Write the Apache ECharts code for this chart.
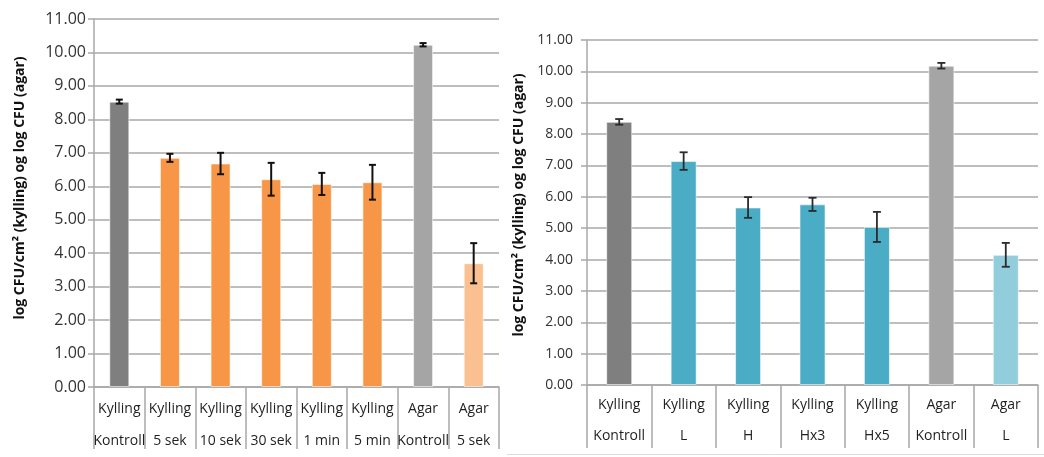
<!DOCTYPE html>
<html>
<head>
<meta charset="utf-8">
<script src="https://cdn.jsdelivr.net/npm/echarts@6/dist/echarts.min.js"></script>
<style>
  html, body { margin: 0; padding: 0; background: #ffffff; }
  #chart { width: 1044px; height: 457px; }
</style>
</head>
<body>
<div id="chart"></div>
<script>
// Left panel: chicken dipped for increasing times, plus agar controls
const leftCategories = ['Kylling\nKontroll', 'Kylling\n5 sek', 'Kylling\n10 sek', 'Kylling\n30 sek',
  'Kylling\n1 min', 'Kylling\n5 min', 'Agar\nKontroll', 'Agar\n5 sek'];
const leftMeans = [8.53, 6.85, 6.68, 6.21, 6.07, 6.12, 10.23, 3.70];
const leftErrors = [0.06, 0.12, 0.32, 0.49, 0.33, 0.52, 0.05, 0.60];

// Right panel: chicken treated L / H / Hx3 / Hx5, plus agar controls
const rightCategories = ['Kylling\nKontroll', 'Kylling\nL', 'Kylling\nH', 'Kylling\nHx3',
  'Kylling\nHx5', 'Agar\nKontroll', 'Agar\nL'];
const rightMeans = [8.39, 7.14, 5.66, 5.76, 5.04, 10.18, 4.15];
const rightErrors = [0.09, 0.28, 0.33, 0.21, 0.48, 0.09, 0.38];

const yMin = 0, yMax = 11, yStep = 1;
const yTitle = 'log CFU/cm\u00b2 (kylling) og log CFU (agar)';

// Bar fills per category
const leftColors = ['#7f7f7f', '#f79646', '#f79646', '#f79646', '#f79646', '#f79646', '#a5a5a5', '#fac090'];
const rightColors = ['#7f7f7f', '#4bacc6', '#4bacc6', '#4bacc6', '#4bacc6', '#a5a5a5', '#92cddc'];

const FONT = '"Open Sans", "Noto Sans", sans-serif';
const GRID_COLOR = '#a8a8a8';

function yAxisFor(gridIndex, fontSize, margin) {
  return {
    type: 'value', gridIndex, min: yMin, max: yMax, interval: yStep,
    axisLine: { show: true, lineStyle: { color: GRID_COLOR, width: 1.5 } },
    axisTick: { show: true, length: 6, lineStyle: { color: GRID_COLOR, width: 1.5 } },
    splitLine: { show: true, lineStyle: { color: GRID_COLOR, width: 1.5 } },
    axisLabel: {
      margin, fontFamily: FONT, fontSize, color: '#333333',
      formatter: v => v.toFixed(2)
    }
  };
}

function xAxisFor(gridIndex, cats, tickLen, lineH, margin) {
  return {
    type: 'category', gridIndex, data: cats,
    axisLine: { show: true, lineStyle: { color: GRID_COLOR, width: 1.5 } },
    axisTick: { show: true, interval: 0, length: tickLen, lineStyle: { color: GRID_COLOR, width: 1.5 } },
    axisLabel: {
      interval: 0, margin, fontFamily: FONT, fontSize: 14, color: '#1f1f1f',
      lineHeight: lineH, hideOverlap: false
    }
  };
}

function barSeries(idx, means, colors, width) {
  return {
    type: 'bar', xAxisIndex: idx, yAxisIndex: idx, barWidth: width,
    data: means.map((v, i) => ({
      value: v,
      itemStyle: { color: colors[i], borderColor: 'rgba(255,255,255,0.55)', borderWidth: 1 }
    })),
    z: 2
  };
}

function errorSeries(idx, means, errs, color, capHalf, lw) {
  return {
    type: 'custom', xAxisIndex: idx, yAxisIndex: idx, z: 5,
    data: means.map((v, i) => [i, v, errs[i]]),
    renderItem: (params, api) => {
      const x = api.value(0), m = api.value(1), e = api.value(2);
      const top = api.coord([x, m + e]);
      const bot = api.coord([x, m - e]);
      const st = { stroke: color, lineWidth: lw };
      return {
        type: 'group',
        children: [
          { type: 'line', shape: { x1: top[0], y1: top[1], x2: bot[0], y2: bot[1] }, style: st },
          { type: 'line', shape: { x1: top[0] - capHalf, y1: top[1], x2: top[0] + capHalf, y2: top[1] }, style: st },
          { type: 'line', shape: { x1: bot[0] - capHalf, y1: bot[1], x2: bot[0] + capHalf, y2: bot[1] }, style: st }
        ]
      };
    }
  };
}

const chart = echarts.init(document.getElementById('chart'), null, { renderer: 'canvas' });
chart.setOption({
  backgroundColor: '#ffffff',
  animation: false,
  grid: [
    { left: 94, top: 19, width: 405, height: 372, containLabel: false },
    { left: 587, top: 40, width: 451, height: 345, containLabel: false }
  ],
  xAxis: [
    xAxisFor(0, leftCategories, 62, 32, 6),
    xAxisFor(1, rightCategories, 63, 31, 5)
  ],
  yAxis: [
    yAxisFor(0, 16, 8),
    yAxisFor(1, 14, 14)
  ],
  series: [
    barSeries(0, leftMeans, leftColors, 20),
    errorSeries(0, leftMeans, leftErrors, '#111111', 3.5, 2),
    barSeries(1, rightMeans, rightColors, 26),
    errorSeries(1, rightMeans, rightErrors, '#2b2b2b', 4, 1.8)
  ],
  graphic: [
    {
      type: 'text', x: 20, y: 188, rotation: Math.PI / 2,
      style: { text: yTitle, fontFamily: FONT, fontSize: 14, fontWeight: 'bold', fill: '#111111',
        align: 'center', verticalAlign: 'middle' }
    },
    {
      type: 'text', x: 519, y: 205, rotation: Math.PI / 2,
      style: { text: yTitle, fontFamily: FONT, fontSize: 14, fontWeight: 'bold', fill: '#111111',
        align: 'center', verticalAlign: 'middle' }
    },
    {
      type: 'line', shape: { x1: 507, y1: 454.5, x2: 1044, y2: 454.5 },
      style: { stroke: '#dddddd', lineWidth: 1 }
    }
  ]
});
</script>
</body>
</html>
